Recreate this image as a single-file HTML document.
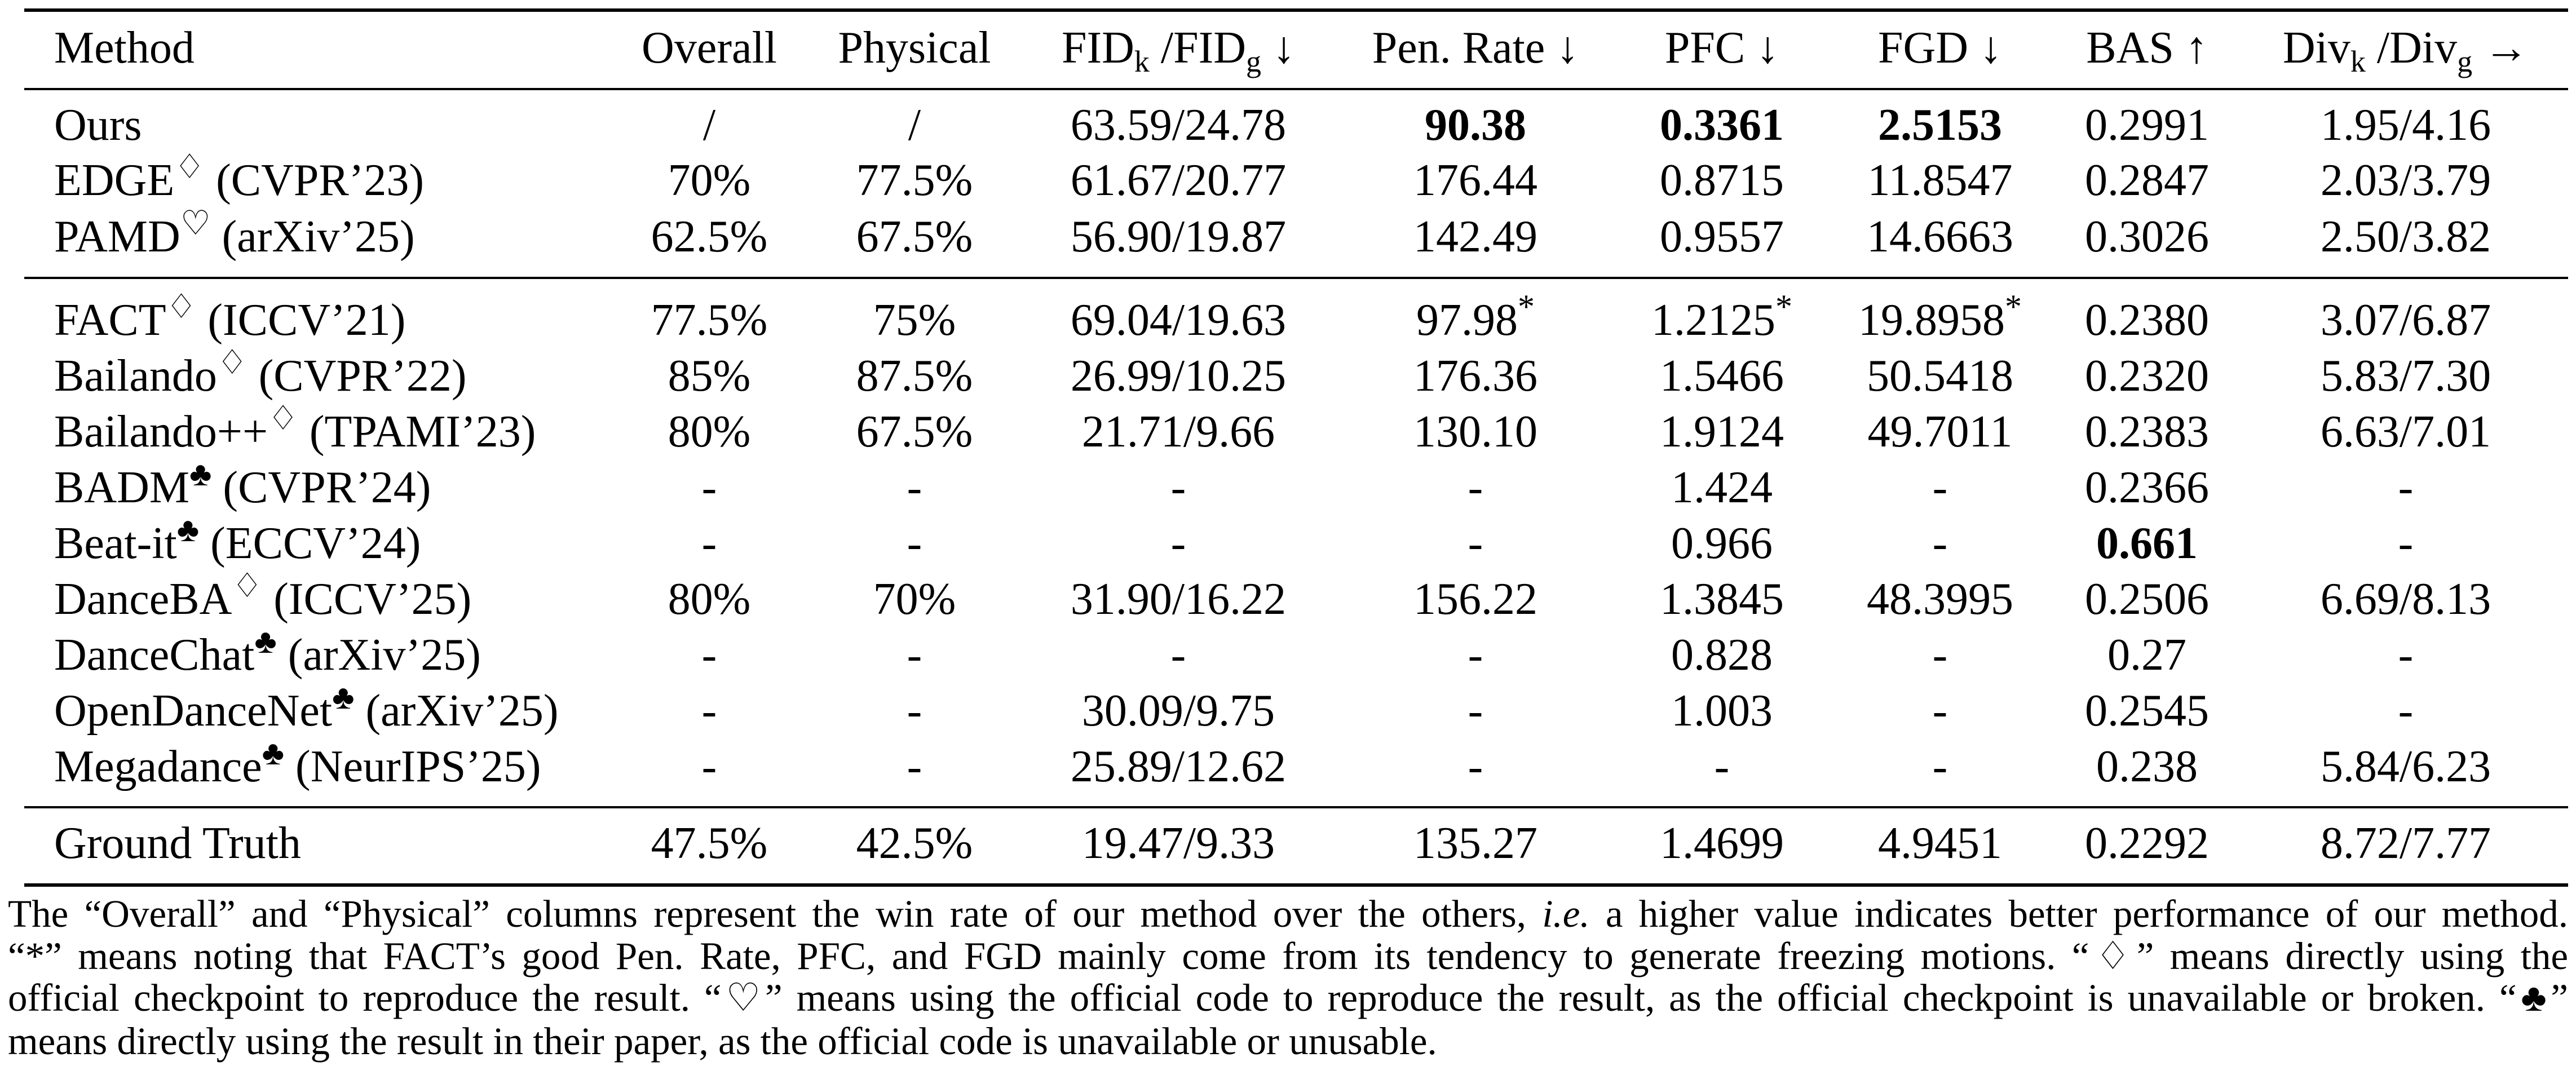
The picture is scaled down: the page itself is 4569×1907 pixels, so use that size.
<!DOCTYPE html>
<html><head><meta charset="utf-8">
<style>
html,body{margin:0;padding:0;background:#fff;}
body{width:4569px;height:1907px;position:relative;overflow:hidden;font-family:"Liberation Serif","DejaVu Serif",serif;color:#000;}
.rule{position:absolute;left:43px;width:4512px;background:#000;}
.row{position:absolute;left:0;width:4569px;height:80px;font-size:80px;line-height:80px;}
.c{position:absolute;top:0;transform:translateX(-50%);white-space:nowrap;}
.m{position:absolute;left:96px;top:0;white-space:nowrap;}
sup{font-size:60px;vertical-align:0;position:relative;top:-30px;}
sub{font-size:54px;vertical-align:0;position:relative;top:16px;}
b{font-weight:bold;}
.cap{position:absolute;left:14px;width:4541px;font-size:69px;line-height:69px;white-space:nowrap;}
.j{text-align:justify;text-align-last:justify;white-space:normal;}
</style></head>
<body>
<div class="rule" style="top:15px;height:6px"></div>
<div class="rule" style="top:156px;height:4px"></div>
<div class="rule" style="top:491px;height:4px"></div>
<div class="rule" style="top:1430px;height:4px"></div>
<div class="rule" style="top:1567px;height:6px"></div>

<div class="row" style="top:45px">
<span class="m">Method</span>
<span class="c" style="left:1258px">Overall</span>
<span class="c" style="left:1622px">Physical</span>
<span class="c" style="left:2090px">FID<sub>k</sub> /FID<sub>g</sub> ↓</span>
<span class="c" style="left:2617px">Pen. Rate ↓</span>
<span class="c" style="left:3054px">PFC ↓</span>
<span class="c" style="left:3441px">FGD ↓</span>
<span class="c" style="left:3808px">BAS ↑</span>
<span class="c" style="left:4267px">Div<sub>k</sub> /Div<sub>g</sub> →</span>
</div>

<div id="rows"></div>

<div class="cap j" style="top:1587px">The “Overall” and “Physical” columns represent the win rate of our method over the others, <i>i.e.</i> a higher value indicates better performance of our method.</div>
<div class="cap j" style="top:1662px">“*” means noting that FACT’s good Pen. Rate, PFC, and FGD mainly come from its tendency to generate freezing motions. “♢” means directly using the</div>
<div class="cap j" style="top:1736px">official checkpoint to reproduce the result. “♡” means using the official code to reproduce the result, as the official checkpoint is unavailable or broken. “♣”</div>
<div class="cap" style="top:1813px">means directly using the result in their paper, as the official code is unavailable or unusable.</div>

<script>
const methods = ['Ours','EDGE<sup>♢</sup> (CVPR’23)','PAMD<sup>♡</sup> (arXiv’25)','FACT<sup>♢</sup> (ICCV’21)','Bailando<sup>♢</sup> (CVPR’22)','Bailando++<sup>♢</sup> (TPAMI’23)','BADM<sup>♣</sup> (CVPR’24)','Beat-it<sup>♣</sup> (ECCV’24)','DanceBA<sup>♢</sup> (ICCV’25)','DanceChat<sup>♣</sup> (arXiv’25)','OpenDanceNet<sup>♣</sup> (arXiv’25)','Megadance<sup>♣</sup> (NeurIPS’25)','Ground Truth'];
const overall = ['/','70%','62.5%','77.5%','85%','80%','-','-','80%','-','-','-','47.5%'];
const physical = ['/','77.5%','67.5%','75%','87.5%','67.5%','-','-','70%','-','-','-','42.5%'];
const fid = ['63.59/24.78','61.67/20.77','56.90/19.87','69.04/19.63','26.99/10.25','21.71/9.66','-','-','31.90/16.22','-','30.09/9.75','25.89/12.62','19.47/9.33'];
const pen = ['<b>90.38</b>','176.44','142.49','97.98<sup>*</sup>','176.36','130.10','-','-','156.22','-','-','-','135.27'];
const pfc = ['<b>0.3361</b>','0.8715','0.9557','1.2125<sup>*</sup>','1.5466','1.9124','1.424','0.966','1.3845','0.828','1.003','-','1.4699'];
const fgd = ['<b>2.5153</b>','11.8547','14.6663','19.8958<sup>*</sup>','50.5418','49.7011','-','-','48.3995','-','-','-','4.9451'];
const bas = ['0.2991','0.2847','0.3026','0.2380','0.2320','0.2383','0.2366','<b>0.661</b>','0.2506','0.27','0.2545','0.238','0.2292'];
const div = ['1.95/4.16','2.03/3.79','2.50/3.82','3.07/6.87','5.83/7.30','6.63/7.01','-','-','6.69/8.13','-','-','5.84/6.23','8.72/7.77'];
const baselines = [249,347,447,595,694,793,892,991,1090,1189,1288,1387,1523];
const colX = [1258,1622,2090,2617,3054,3441,3808,4267];
const colNames = ['overall','physical','fid','pen-rate','pfc','fgd','bas','div'];
const cols = [overall,physical,fid,pen,pfc,fgd,bas,div];
const host = document.getElementById('rows');
methods.forEach((m,i)=>{
  const r = document.createElement('div');
  r.className='row';
  r.style.top=(baselines[i]-67)+'px';
  
  
  const s = document.createElement('span');
  s.className='m';
  s.innerHTML=m;
  
  
  r.appendChild(s);
  cols.forEach((col,j)=>{
    const c = document.createElement('span');
    c.className='c';
    c.style.left=colX[j]+'px';
    c.innerHTML=col[i];
    
    
    r.appendChild(c);
  });
  host.appendChild(r);
});
</script>
</body></html>
